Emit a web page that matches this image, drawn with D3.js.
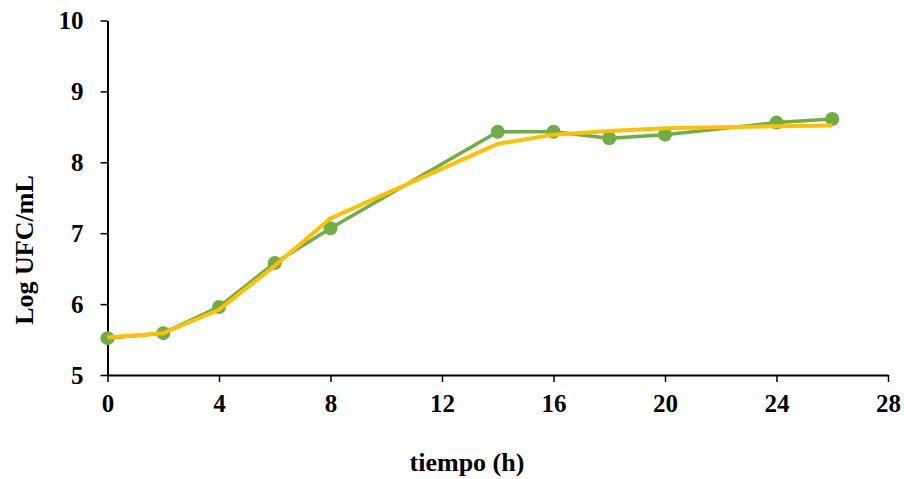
<!DOCTYPE html>
<html>
<head>
<meta charset="utf-8">
<script src="https://cdn.jsdelivr.net/npm/d3@7"></script>
<style>
  html, body { margin: 0; padding: 0; background: #fff; }
  svg { display: block; }
  text { font-family: "Liberation Serif", "Times New Roman", serif; font-weight: bold; fill: #000; }
</style>
</head>
<body>
<svg id="chart" width="904" height="479"></svg>
<script>
const times = [0, 2, 4, 6, 8, 14, 16, 18, 20, 24, 26];
const observed = [5.52, 5.59, 5.96, 6.58, 7.07, 8.43, 8.43, 8.34, 8.39, 8.56, 8.61];
const fitted = [5.53, 5.59, 5.92, 6.54, 7.21, 8.26, 8.39, 8.44, 8.48, 8.51, 8.52];
const xTicks = [0, 4, 8, 12, 16, 20, 24, 28];
const yTicks = [5, 6, 7, 8, 9, 10];
const xTitle = "tiempo (h)";
const yTitle = "Log UFC/mL";

const svg = d3.select("#chart");
const x = d3.scaleLinear().domain([0, 28]).range([107.5, 888]);
const y = d3.scaleLinear().domain([5, 10]).range([375, 20.5]);

const xAxis = svg.append("g")
  .attr("transform", `translate(0,${y(5)})`)
  .call(d3.axisBottom(x).tickValues(xTicks).tickFormat(d3.format("d")).tickSize(7).tickSizeOuter(0).tickPadding(12));
const yAxis = svg.append("g")
  .attr("transform", `translate(${x(0)},0)`)
  .call(d3.axisLeft(y).tickValues(yTicks).tickFormat(d3.format("d")).tickSize(7).tickSizeOuter(0).tickPadding(17));

[xAxis, yAxis].forEach(g => {
  g.select(".domain").attr("stroke", "#000").attr("stroke-width", 2);
  g.selectAll(".tick line").attr("stroke", "#000").attr("stroke-width", 1.5);
  g.selectAll(".tick text").style("font-size", "25px").style("font-family", "Liberation Serif").style("font-weight", "bold").attr("fill", "#000");
});

const line = d3.line().x(d => x(d[0])).y(d => y(d[1]));
const obsData = times.map((t, i) => [t, observed[i]]);
const fitData = times.map((t, i) => [t, fitted[i]]);

svg.append("path").datum(obsData)
  .attr("d", line).attr("fill", "none").attr("stroke", "#70AD47").attr("stroke-width", 3.5)
  .attr("stroke-linejoin", "round");
svg.selectAll("circle.obs").data(obsData).enter().append("circle")
  .attr("class", "obs").attr("cx", d => x(d[0])).attr("cy", d => y(d[1])).attr("r", 7)
  .attr("fill", "#70AD47");
svg.append("path").datum(fitData)
  .attr("d", line).attr("fill", "none").attr("stroke", "#FFC000").attr("stroke-width", 4)
  .attr("stroke-linejoin", "round");

svg.append("text").attr("x", 467).attr("y", 471).attr("text-anchor", "middle")
  .style("font-size", "26px").text(xTitle);
svg.append("text").attr("transform", "translate(33,250) rotate(-90)").attr("text-anchor", "middle")
  .style("font-size", "26px").text(yTitle);
</script>
</body>
</html>
